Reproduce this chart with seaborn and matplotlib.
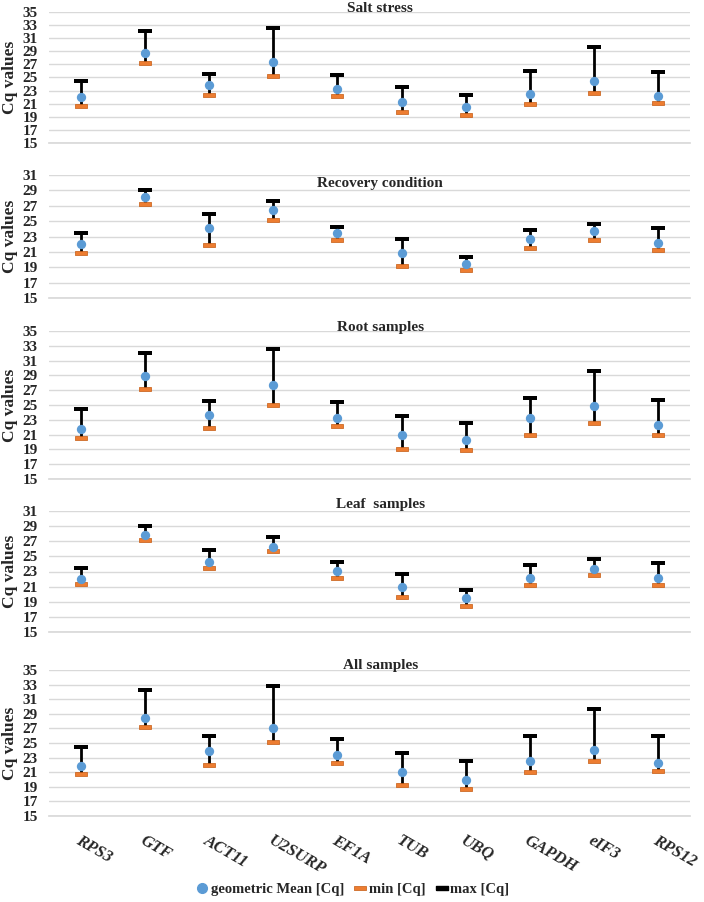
import numpy as np
import pandas as pd
import seaborn as sns
import matplotlib.pyplot as plt
from matplotlib.lines import Line2D

genes = ['RPS3', 'GTF', 'ACT11', 'U2SURP', 'EF1A', 'TUB', 'UBQ', 'GAPDH', 'eIF3', 'RPS12']

titles = ['Salt stress', 'Recovery condition', 'Root samples', 'Leaf  samples', 'All samples']
ytops = [35, 31, 35, 31, 35]

salt_mean = [22.0, 28.7, 23.9, 27.4, 23.2, 21.2, 20.5, 22.5, 24.5, 22.2]
salt_min = [20.6, 27.2, 22.4, 25.3, 22.1, 19.7, 19.3, 20.9, 22.6, 21.1]
salt_max = [24.4, 32.1, 25.6, 32.6, 25.4, 23.5, 22.4, 26.0, 29.6, 25.8]

rec_mean = [22.0, 28.2, 24.1, 26.5, 23.4, 20.9, 19.4, 22.7, 23.7, 22.2]
rec_min = [20.9, 27.2, 21.9, 25.1, 22.5, 19.1, 18.6, 21.5, 22.5, 21.2]
rec_max = [23.5, 29.0, 25.9, 27.6, 24.3, 22.7, 20.3, 23.9, 24.6, 24.1]

root_mean = [21.8, 28.9, 23.6, 27.7, 23.3, 21.0, 20.3, 23.2, 24.8, 22.3]
root_min = [20.6, 27.1, 21.9, 25.0, 22.2, 19.1, 18.9, 20.9, 22.5, 21.0]
root_max = [24.4, 32.0, 25.5, 32.6, 25.4, 23.5, 22.5, 25.9, 29.6, 25.7]

leaf_mean = [22.0, 27.8, 24.2, 26.2, 23.1, 21.0, 19.5, 22.1, 23.3, 22.1]
leaf_min = [21.4, 27.2, 23.4, 25.7, 22.1, 19.6, 18.5, 21.2, 22.6, 21.2]
leaf_max = [23.5, 29.0, 25.9, 27.6, 24.3, 22.7, 20.5, 23.9, 24.6, 24.1]

all_mean = [21.9, 28.4, 23.9, 27.0, 23.3, 21.0, 19.9, 22.6, 24.1, 22.2]
all_min = [20.7, 27.2, 22.0, 25.2, 22.2, 19.2, 18.7, 21.0, 22.6, 21.1]
all_max = [24.5, 32.2, 26.0, 32.8, 25.5, 23.6, 22.6, 26.0, 29.6, 25.9]

means = [salt_mean, rec_mean, root_mean, leaf_mean, all_mean]
mins = [salt_min, rec_min, root_min, leaf_min, all_min]
maxs = [salt_max, rec_max, root_max, leaf_max, all_max]

sns.set_theme(style='white')
plt.rcParams['font.family'] = ['Liberation Serif', 'DejaVu Serif']
plt.rcParams['font.weight'] = 'bold'

BLUE = '#5B9BD5'
ORANGE = '#ED7D31'
GRID = '#D9D9D9'
cap = [(-1, -0.3), (1, -0.3), (1, 0.3), (-1, 0.3), (-1, -0.3)]

fig = plt.figure(figsize=(7.04, 9.02), dpi=100)

# panel boxes in pixels (top, bottom)
boxes = [(12, 143), (175, 298), (331, 479), (511, 632), (670, 816)]
title_y = [8, 183, 327, 505, 665]
left, right = 49, 690

x = np.arange(len(genes))
for i in range(5):
    top, bot = boxes[i]
    ax = fig.add_axes([left / 704, 1 - bot / 902, (right - left) / 704, (bot - top) / 902])
    df = pd.DataFrame({'x': x, 'mean': means[i], 'min': mins[i], 'max': maxs[i]})

    ax.vlines(df['x'], df['min'], df['max'], color='black', lw=2, zorder=2)
    sns.scatterplot(data=df, x='x', y='max', marker=cap, s=90, color='black',
                    edgecolor='black', linewidth=0, ax=ax, zorder=3)
    sns.scatterplot(data=df, x='x', y='min', marker=cap, s=78, color=ORANGE,
                    edgecolor='#C55A11', linewidth=0.5, ax=ax, zorder=3)
    sns.scatterplot(data=df, x='x', y='mean', marker='o', s=45, color=BLUE,
                    edgecolor=BLUE, linewidth=0, ax=ax, zorder=4)

    ax.set_xlim(-0.5, len(genes) - 0.5)
    ax.set_ylim(15, ytops[i])
    ax.set_yticks(np.arange(15, ytops[i] + 1, 2))
    ax.yaxis.grid(True, color=GRID, lw=1)
    ax.set_axisbelow(True)
    for s in ['top', 'right', 'left']:
        ax.spines[s].set_visible(False)
    ax.spines['bottom'].set_color(GRID)
    ax.tick_params(axis='y', length=0, pad=8, labelsize=11)
    ax.set_ylabel('Cq values', fontsize=12.5, fontweight='bold', labelpad=3)
    ax.set_xlabel('')
    for lab in ax.get_yticklabels():
        lab.set_fontweight('bold')

    if i < 4:
        ax.set_xticks([])
    else:
        ax.set_xticks(x)
        ax.set_xticklabels(genes, rotation=-30, ha='left', va='top',
                           rotation_mode='anchor', fontstyle='italic',
                           fontweight='bold', fontsize=12)
        ax.set_xticks(np.arange(-0.5, len(genes), 1), minor=True)
        ax.tick_params(axis='x', which='major', length=0, pad=12)
        ax.tick_params(axis='x', which='minor', length=5, color=GRID, width=1)

    fig.text(0.54, 1 - title_y[i] / 902, titles[i], ha='center', va='center',
             fontsize=11, fontweight='bold')

handles = [
    Line2D([], [], ls='none', marker='o', ms=7, color=BLUE, mec=BLUE),
    Line2D([], [], ls='none', marker=cap, ms=8, color=ORANGE, mec='#C55A11', mew=0.5),
    Line2D([], [], ls='none', marker=cap, ms=8, color='black'),
]
fig.legend(handles, ['geometric Mean [Cq]', 'min [Cq]', 'max [Cq]'],
           loc='center', bbox_to_anchor=(0.5, 1 - 889 / 902), ncol=3, frameon=False,
           prop={'weight': 'bold', 'size': 10.5}, handletextpad=0.1, columnspacing=0.6,
           handlelength=1.0)

fig.savefig('out.png', dpi=100)
